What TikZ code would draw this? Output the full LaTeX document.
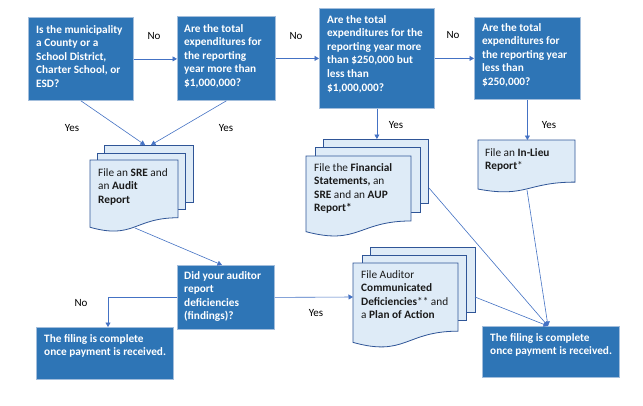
\documentclass[tikz,border=0pt]{standalone}
\usepackage{fontspec}
\setmainfont{Carlito}
\usetikzlibrary{arrows.meta}
\definecolor{boxblue}{HTML}{2E75B6}
\definecolor{boxedge}{HTML}{A3BEDC}
\definecolor{docfill}{HTML}{DEEBF7}
\definecolor{docedge}{HTML}{2F5597}
\definecolor{linkblue}{HTML}{4472C4}
\definecolor{doctext}{HTML}{1A1A1A}
\newcommand\docfront[4]{%
  \draw[page] (#1,#2) -- (#3,#2) -- (#3,{#2+0.802*#4})
    .. controls ({(#1+#3)/2},{#2+0.802*#4}) and ({(#1+#3)/2},{#2+1.107*#4}) .. (#1,{#2+0.934*#4}) -- cycle;}
\tikzset{
  qbox/.style={draw=boxedge, fill=boxblue, line width=0.8pt, inner sep=0pt, anchor=north west},
  qtext/.style={anchor=north west, text=white, font=\fontsize{11.3}{13.6}\selectfont\bfseries, align=left, inner sep=0pt},
  dtext/.style={anchor=north west, text=doctext, font=\fontsize{11.3}{13.6}\selectfont, align=left, inner sep=0pt},
  page/.style={draw=docedge, fill=docfill, line width=0.8pt},
  link/.style={draw=linkblue, line width=0.6pt},
  arr/.style={link, -{Triangle[length=4.5pt,width=5pt]}},
  lbl/.style={text=black, font=\fontsize{11}{12}\selectfont, inner sep=0pt},
}
\begin{document}
\begin{tikzpicture}[x=1pt,y=-1pt]
\useasboundingbox[fill=white] (0,0) rectangle (643,405);

% decision boxes
\node[qbox, minimum width=105pt, minimum height=83pt] (q1) at (28,17) {};
\node[qbox, minimum width=98pt, minimum height=84pt] (q2) at (177,16) {};
\node[qbox, minimum width=115pt, minimum height=100pt] (q3) at (319,8) {};
\node[qbox, minimum width=106pt, minimum height=82pt] (q4) at (474,17) {};
\node[qbox, minimum width=97pt, minimum height=64pt] (q5) at (177,265) {};
\node[qbox, minimum width=137pt, minimum height=52pt] (end1) at (36,327) {};
\node[qbox, minimum width=137pt, minimum height=51pt] (end2) at (482,326) {};

\node[qtext] (q1t) at (36,25) {Is the municipality\\a County or a\\School District,\\Charter School, or\\ESD?};
\node[qtext] (q2t) at (184,24) {Are the total\\expenditures for\\the reporting\\year more than\\\$1,000,000?};
\node[qtext] (q3t) at (327,15) {Are the total\\expenditures for the\\reporting year more\\than \$250,000 but\\less than\\\$1,000,000?};
\node[qtext] (q4t) at (482,23) {Are the total\\expenditures for\\the reporting year\\less than\\\$250,000?};
\node[qtext] (q5t) at (184,271) {Did your auditor\\report\\deficiencies\\(findings)?};
\node[qtext] (end1t) at (44,334) {The filing is complete\\once payment is received.};
\node[qtext] (end2t) at (490,333) {The filing is complete\\once payment is received.};

% documents
\draw[page] (104,145) rectangle (193,202);
\draw[page] (97,153) rectangle (185,209);
\docfront{90}{160}{178}{72}
\node[dtext] (d1t) at (98,168) {File an \textbf{SRE} and\\an \textbf{Audit}\\\textbf{Report}};

\draw[page] (323,139) rectangle (428,203);
\draw[page] (315,147) rectangle (420,212);
\docfront{306}{156}{411}{81}
\node[dtext] (d2t) at (314,163) {File the \textbf{Financial}\\\textbf{Statements,} an\\\textbf{SRE} and an \textbf{AUP}\\\textbf{Report*}};

\docfront{478}{140}{575}{52.5}
\node[dtext] (d3t) at (485,148) {File an \textbf{In-Lieu}\\\textbf{Report}*};

\draw[page] (370,247) rectangle (475,312);
\draw[page] (362,255) rectangle (466,320);
\docfront{353}{263}{458}{85}
\node[dtext] (d4t) at (361,270) {File Auditor\\\textbf{Communicated}\\\textbf{Deficiencies}** and\\a \textbf{Plan of Action}};

% connector end points on documents
\coordinate (d1inA) at (145,145);
\coordinate (d1inB) at (151,145);
\coordinate (d1out) at (135,228);
\coordinate (d2in) at (q3.south |- 0,139);
\coordinate (d2out) at (429,188);
\coordinate (d3in) at (q4.south |- 0,140);
\coordinate (d3out) at (527,190);
\coordinate (d4in) at (353,297);
\coordinate (d4out) at (475,297);
\coordinate (end1in) at (108,327);
\coordinate (q5in) at (222,265);
\coordinate (end2in) at (548,326);

% connectors
\draw[arr] (q1.east) -- (q2.west |- q1.east);
\draw[arr] (q2.east) -- (q3.west |- q2.east);
\draw[arr] (q3.east |- q4.west) -- (q4.west);
\draw[arr] (q1.south) -- (d1inA);
\draw[arr] (q2.south) -- (d1inB);
\draw[arr] (q3.south) -- (d2in);
\draw[arr] (q4.south) -- (d3in);
\draw[arr] (d1out) -- (q5in);
\draw[arr] (q5.west) -| (end1in);
\draw[arr] (q5.east) -- (d4in);
\draw[arr] (d4out) -- (end2in);
\draw[arr] (d2out) -- (end2in);
\draw[arr] (d3out) -- (end2in);

% labels
\node[lbl] (n1) at (154,36) {No};
\node[lbl] (n2) at (296,36) {No};
\node[lbl] (n3) at (453,35) {No};
\node[lbl] (y1) at (72,128) {Yes};
\node[lbl] (y2) at (226,128) {Yes};
\node[lbl] (y3) at (396,125) {Yes};
\node[lbl] (y4) at (549,125) {Yes};
\node[lbl] (n4) at (81,303) {No};
\node[lbl] (y5) at (316,313) {Yes};
\end{tikzpicture}
\end{document}
